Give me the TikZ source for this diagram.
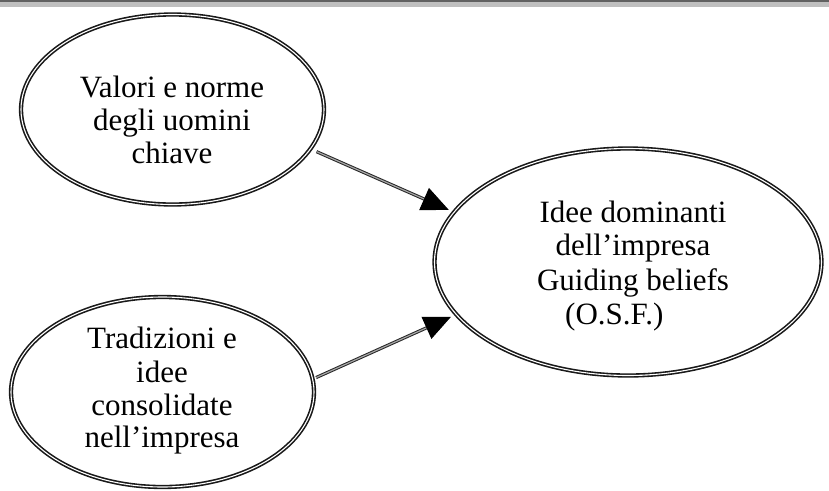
\documentclass[tikz,border=0pt]{standalone}
\usepackage{fontspec}
\setmainfont{Liberation Serif}
\usetikzlibrary{shapes.geometric,arrows.meta}
\begin{document}
\begin{tikzpicture}[x=1pt,y=-1pt,
  bubble/.style={ellipse,draw=black!90,line width=1.6pt,double=white,double distance=1.1pt,inner sep=0pt},
  label/.style={font=\fontsize{31}{33}\selectfont,align=center,inner sep=0pt},
  conn/.style={draw=black!85,line width=1pt,double=black!35,double distance=1.2pt,
    -{Triangle[length=27pt,width=24pt,fill=black,color=black]}}]
  \useasboundingbox (0,0) rectangle (829,490);
  % header band
  \fill[black!62] (0,0) rectangle (829,2);
  \fill[black!25] (0,2) rectangle (829,7);
  % ellipses
  \node[bubble,minimum width=303pt,minimum height=190pt] (e1) at (172.5,109.5) {};
  \node[bubble,minimum width=303pt,minimum height=190pt] (e2) at (162.5,392) {};
  \node[bubble,minimum width=387pt,minimum height=227pt] (e3) at (628,262) {};
  % texts
  \node[label,anchor=base] (t1a) at (172,97) {Valori e norme};
  \node[label,anchor=base] (t1b) at (172,130) {degli uomini};
  \node[label,anchor=base] (t1c) at (172,163) {chiave};
  \node[label,anchor=base] (t2a) at (162,348) {Tradizioni e};
  \node[label,anchor=base] (t2b) at (162,382) {idee};
  \node[label,anchor=base] (t2c) at (162,415) {consolidate};
  \node[label,anchor=base] (t2d) at (162,447) {nell’impresa};
  \node[label,anchor=base] (t3a) at (633,222) {Idee dominanti};
  \node[label,anchor=base] (t3b) at (633,255) {dell’impresa};
  \node[label,anchor=base] (t3c) at (633,290) {Guiding beliefs};
  \node[label,anchor=base west] (t3d) at (565,324) {(O.S.F.)};
  % connectors
  \draw[conn,shorten <=6pt,shorten >=5pt] (e1.-16) -- (e3.164);
  \draw[conn,shorten <=3pt,shorten >=5pt] (e2.5) -- (e3.197);
\end{tikzpicture}
\end{document}
